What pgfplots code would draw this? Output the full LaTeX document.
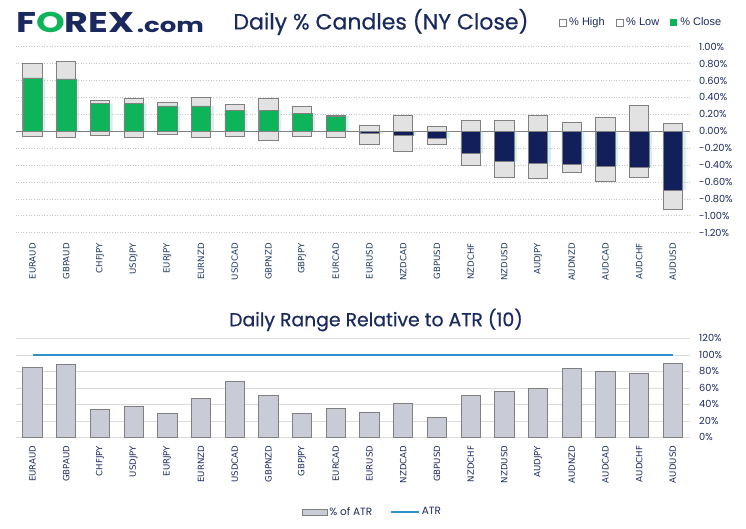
\documentclass[border=0pt]{standalone}
\usepackage{pgfplots}
\usepackage{pgfplotstable}
\pgfplotsset{compat=1.18}
\usepackage{fontspec}
\setmainfont{DejaVu Sans}
\newfontfamily\pop{Poppins}
\newfontfamily\popm{Poppins}[FakeBold=0.6]
\newfontfamily\dv{DejaVu Sans}
\newfontfamily\lib{Liberation Sans}
\definecolor{navy}{HTML}{1B2A5E}
\definecolor{barnavy}{HTML}{131F5B}
\definecolor{fxgreen}{HTML}{0DB45A}
\definecolor{boxfill}{HTML}{E2E2E2}
\definecolor{boxedge}{HTML}{808080}
\definecolor{atrfill}{HTML}{C9CBD6}
\definecolor{atrblue}{HTML}{2E92CC}
\definecolor{labcol}{HTML}{1E3A5F}
\definecolor{glow}{HTML}{7FD3C8}

\pgfplotstableread{
x high low close
0 0.80 -0.06 0.63
1 0.82 -0.07 0.62
2 0.36 -0.05 0.33
3 0.39 -0.07 0.33
4 0.34 -0.04 0.30
5 0.40 -0.07 0.30
6 0.32 -0.06 0.25
7 0.39 -0.11 0.25
8 0.29 -0.06 0.21
9 0.19 -0.07 0.18
10 0.07 -0.16 -0.03
11 0.19 -0.24 -0.05
12 0.06 -0.16 -0.08
13 0.13 -0.41 -0.26
14 0.13 -0.55 -0.36
15 0.19 -0.56 -0.38
16 0.10 -0.49 -0.39
17 0.16 -0.59 -0.41
18 0.31 -0.55 -0.43
19 0.09 -0.93 -0.70
}\candles

\pgfplotstableread{
x pct atr
0 85 100
1 88 100
2 34 100
3 38 100
4 29 100
5 47 100
6 68 100
7 51 100
8 29 100
9 35 100
10 30 100
11 41 100
12 24 100
13 51 100
14 56 100
15 59 100
16 83 100
17 80 100
18 78 100
19 89 100
}\atrtab

\begin{document}
\begin{tikzpicture}
\useasboundingbox (0pt,0pt) rectangle (746pt,-529pt);

% logo and titles
\node[anchor=west, inner sep=0pt, font=\pop\bfseries\fontsize{28.5}{28.5}\selectfont] (logo) at (16pt,-22pt)
  {\scalebox{1.28}[1]{\textcolor{navy}{F}\textcolor{fxgreen}{O}\textcolor{navy}{REX}}};
\node[anchor=base west, inner sep=0pt, font=\pop\bfseries\fontsize{20}{20}\selectfont, text=navy] at ([xshift=2pt]logo.base east) {\scalebox{1.3}[1]{.com}};
\node[anchor=center, inner sep=0pt, font=\popm\fontsize{22}{22}\selectfont, text=navy] at (381pt,-22pt) {Daily \% Candles (NY Close)};
\node[anchor=center, inner sep=0pt, font=\popm\fontsize{18.8}{19}\selectfont, text=navy] at (376pt,-320pt) {Daily Range Relative to ATR (10)};

% ---------- top chart ----------
\begin{axis}[
  at={(15.7pt,-232.7pt)}, anchor=south west,
  scale only axis, width=674pt, height=186pt,
  xmin=-0.5, xmax=19.5, ymin=-1.2, ymax=1.0,
  axis line style={draw=none},
  major tick length=0pt,
  xtick={0,...,19},
  xticklabels={EURAUD,GBPAUD,CHFJPY,USDJPY,EURJPY,EURNZD,USDCAD,GBPNZD,GBPJPY,EURCAD,EURUSD,NZDCAD,GBPUSD,NZDCHF,NZDUSD,AUDJPY,AUDNZD,AUDCAD,AUDCHF,AUDUSD},
  xticklabel style={rotate=90, anchor=east, font=\dv\fontsize{8.6}{9}\selectfont, text=labcol},
  xticklabel shift=7pt,
  ytick={-1.2,-1.0,-0.8,-0.6,-0.4,-0.2,0,0.2,0.4,0.6,0.8,1.0},
  yticklabels={-1.20\%,-1.00\%,-0.80\%,-0.60\%,-0.40\%,-0.20\%,0.00\%,0.20\%,0.40\%,0.60\%,0.80\%,1.00\%},
  yticklabel pos=right,
  yticklabel style={anchor=west, font=\pop\fontsize{9.8}{10}\selectfont, text=navy, xshift=6pt},
  ymajorgrids,
  major grid style={color=black!22, line width=0.6pt, dash pattern=on 1pt off 1.6pt},
  extra y ticks={0}, extra y tick labels={},
  extra y tick style={major grid style={solid, color=boxedge, line width=0.9pt}},
  legend style={at={(1.050,1.131)}, anchor=east, draw=none, fill=none, inner sep=0pt,
    legend columns=3, font=\lib\fontsize{11}{11}\selectfont, text=navy,
    /tikz/every odd column/.append style={column sep=1pt},
    /tikz/every even column/.append style={column sep=9pt}},
  legend cell align=left,
]
\addplot[ybar, bar width=19.3pt, bar shift=0pt, fill=boxfill, draw=boxedge, line width=0.9pt,
  legend image code/.code={\draw[draw=boxedge, fill=white, line width=0.6pt] (0pt,-3.5pt) rectangle (7pt,3.5pt);}]
  table[x=x,y=high]{\candles};
\addlegendentry{\% High}
\addplot[ybar, bar width=19.3pt, bar shift=0pt, fill=boxfill, draw=boxedge, line width=0.9pt,
  legend image code/.code={\draw[draw=boxedge, fill=white, line width=0.6pt] (0pt,-3.5pt) rectangle (7pt,3.5pt);}]
  table[x=x,y=low]{\candles};
\addlegendentry{\% Low}
% glow
\addplot[ybar, bar width=23pt, bar shift=1.2pt, fill=glow, draw=none, fill opacity=0.35, forget plot]
  table[x=x,y=close]{\candles};
\addplot[ybar, bar width=19.3pt, bar shift=0pt, fill=fxgreen, draw=boxedge, line width=0.6pt,
  restrict x to domain=0:9.5,
  legend image code/.code={\draw[draw=none, fill=fxgreen] (0pt,-3.5pt) rectangle (7pt,3.5pt);}]
  table[x=x,y=close]{\candles};
\addlegendentry{\% Close}
\addplot[ybar, bar width=19.3pt, bar shift=0pt, fill=barnavy, draw=boxedge, line width=0.6pt,
  restrict x to domain=9.5:19.5, forget plot]
  table[x=x,y=close]{\candles};
\end{axis}

% ---------- bottom chart ----------
\begin{axis}[
  at={(15.7pt,-437.3pt)}, anchor=south west,
  scale only axis, width=674pt, height=99pt,
  xmin=-0.5, xmax=19.5, ymin=0, ymax=120,
  axis line style={draw=none},
  major tick length=0pt,
  xtick={0,...,19},
  xticklabels={EURAUD,GBPAUD,CHFJPY,USDJPY,EURJPY,EURNZD,USDCAD,GBPNZD,GBPJPY,EURCAD,EURUSD,NZDCAD,GBPUSD,NZDCHF,NZDUSD,AUDJPY,AUDNZD,AUDCAD,AUDCHF,AUDUSD},
  xticklabel style={rotate=90, anchor=east, font=\dv\fontsize{8.6}{9}\selectfont, text=navy},
  xticklabel shift=5pt,
  ytick={0,20,40,60,80,100,120},
  yticklabels={0\%,20\%,40\%,60\%,80\%,100\%,120\%},
  yticklabel pos=right,
  yticklabel style={anchor=west, font=\pop\fontsize{9.8}{10}\selectfont, text=navy, xshift=6pt},
  ymajorgrids,
  major grid style={color=black!14, line width=0.6pt},
  legend style={at={(0.529,-0.755)}, anchor=center, draw=none, fill=none, inner sep=0pt,
    legend columns=2, font=\pop\fontsize{10.5}{10.5}\selectfont, text=navy,
    /tikz/every odd column/.append style={column sep=0pt},
    /tikz/every even column/.append style={column sep=16pt}},
]
\addplot[ybar, bar width=19.3pt, bar shift=0pt, fill=atrfill, draw=boxedge, line width=0.9pt,
  legend image code/.code={\draw[draw=boxedge, fill=atrfill, line width=0.7pt] (0pt,-3pt) rectangle (25pt,3pt);}]
  table[x=x,y=pct]{\atrtab};
\addlegendentry{\% of ATR}
\addplot[color=atrblue, line width=2.4pt, mark=none,
  legend image code/.code={\draw[draw=atrblue, line width=1.6pt] (0pt,0pt) -- (28pt,0pt);}]
  table[x=x,y=atr]{\atrtab};
\addlegendentry{ATR}
\end{axis}
\end{tikzpicture}
\end{document}
